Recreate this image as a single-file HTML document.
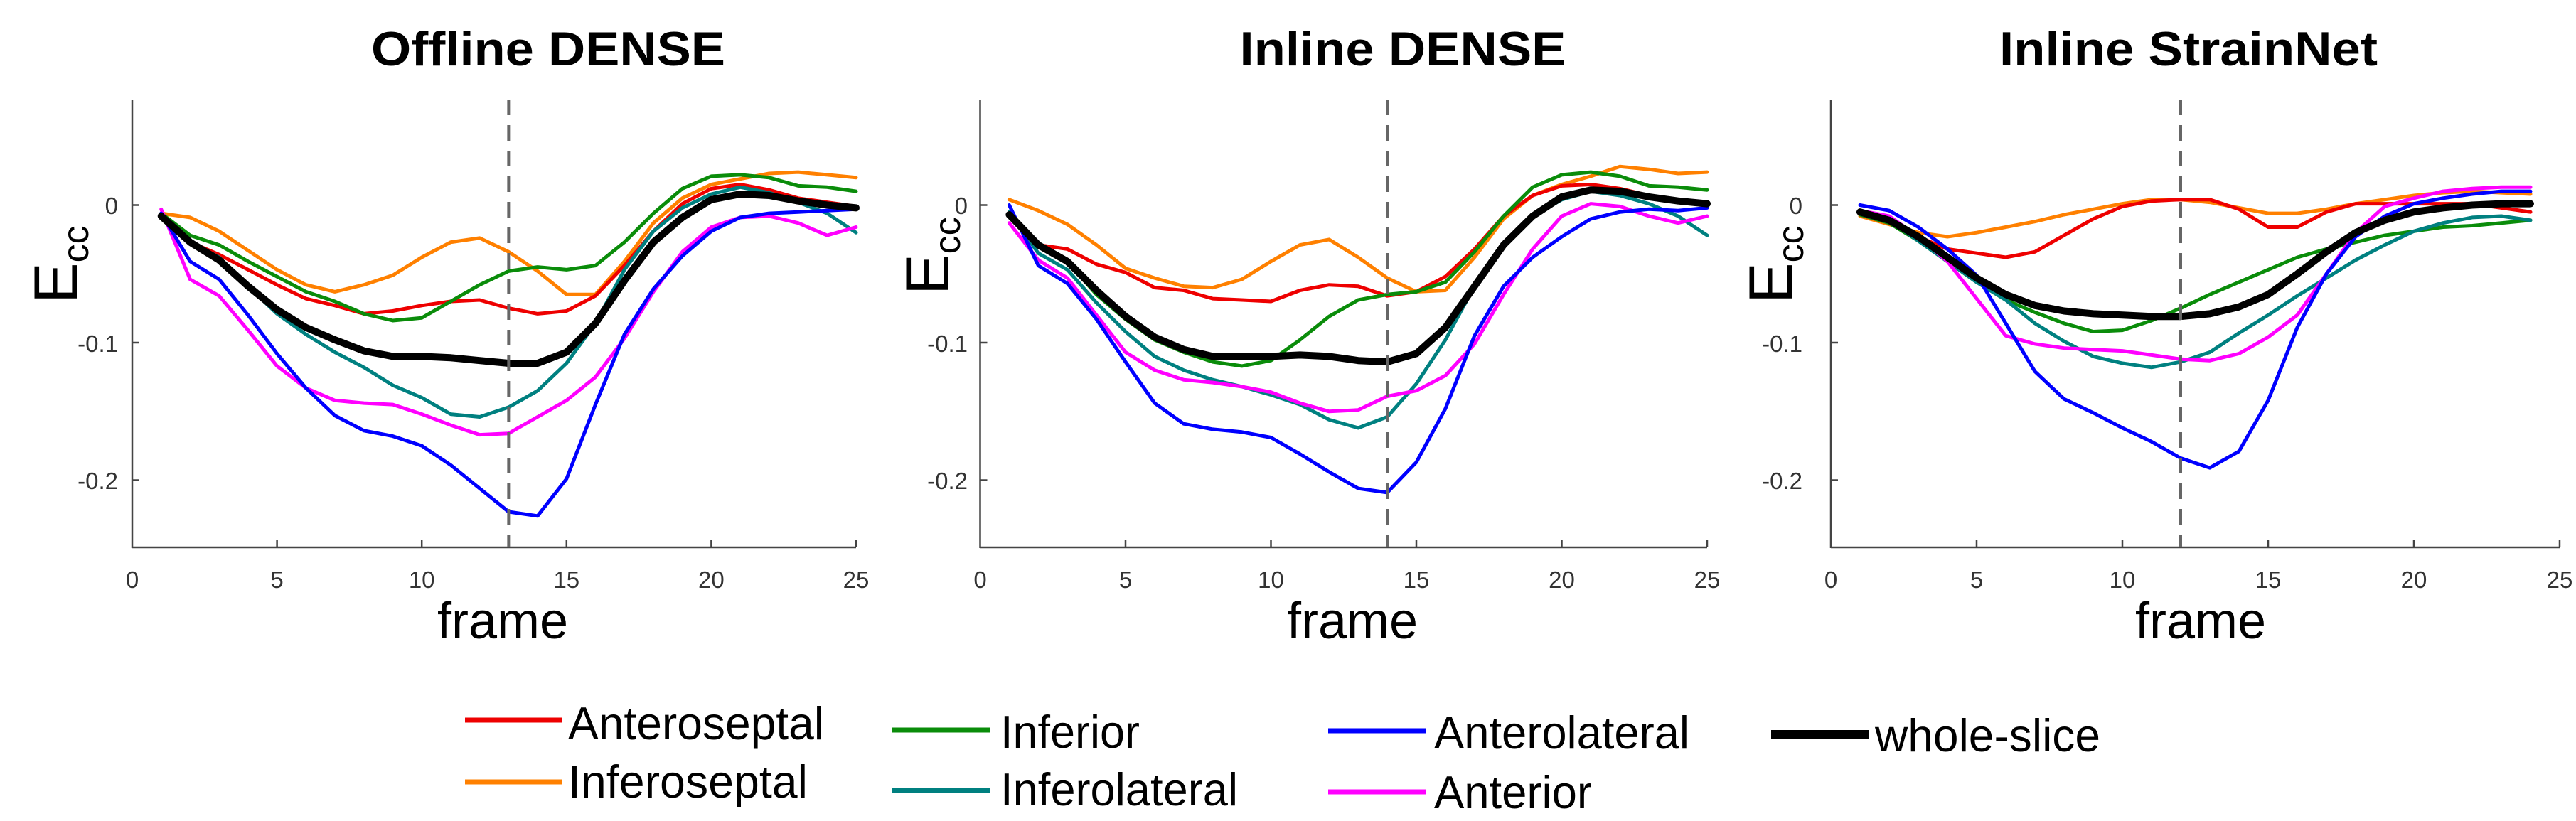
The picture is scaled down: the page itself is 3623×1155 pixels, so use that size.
<!DOCTYPE html>
<html><head><meta charset="utf-8"><style>
html,body{margin:0;padding:0;background:#fff;}
svg{display:block;}
</style></head><body>
<svg id="s" width="3623" height="1155" viewBox="0 0 3623 1155" xmlns="http://www.w3.org/2000/svg">
<rect width="3623" height="1155" fill="#fff"/>
<g font-family="Liberation Sans, Arial, sans-serif" font-weight="bold" font-size="68" fill="#000" text-anchor="middle">
<text x="771" y="92" textLength="498" lengthAdjust="spacingAndGlyphs">Offline DENSE</text>
<text x="1973" y="92" textLength="459" lengthAdjust="spacingAndGlyphs">Inline DENSE</text>
<text x="3078" y="92" textLength="532" lengthAdjust="spacingAndGlyphs">Inline StrainNet</text>
</g>
<g font-family="Liberation Sans, Arial, sans-serif" font-size="72" fill="#000" text-anchor="middle">
<text x="707" y="898">frame</text>
<text x="1902" y="898">frame</text>
<text x="3095" y="898">frame</text>
</g>
<g font-family="Liberation Sans, Arial, sans-serif" fill="#000" text-anchor="middle">
<text transform="translate(108,372) rotate(-90)" font-size="86">E<tspan font-size="52" dy="16">cc</tspan></text>
<text transform="translate(1334,360) rotate(-90)" font-size="86">E<tspan font-size="52" dy="16">cc</tspan></text>
<text transform="translate(2520,372) rotate(-90)" font-size="86">E<tspan font-size="52" dy="16">cc</tspan></text>
</g>
<g font-family="Liberation Sans, Arial, sans-serif" font-size="33" fill="#333" text-anchor="end">
<text x="166" y="301">0</text><text x="166" y="495">-0.1</text><text x="166" y="688">-0.2</text>
<text x="1361" y="301">0</text><text x="1361" y="495">-0.1</text><text x="1361" y="688">-0.2</text>
<text x="2535" y="301">0</text><text x="2535" y="495">-0.1</text><text x="2535" y="688">-0.2</text>
</g>
<g font-family="Liberation Sans, Arial, sans-serif" font-size="33" fill="#333" text-anchor="middle">
<text x="186" y="827">0</text><text x="389.6" y="827">5</text><text x="593.2" y="827">10</text><text x="796.8" y="827">15</text><text x="1000.4" y="827">20</text><text x="1204" y="827">25</text>
<text x="1378.5" y="827">0</text><text x="1583" y="827">5</text><text x="1787.5" y="827">10</text><text x="1992" y="827">15</text><text x="2196.5" y="827">20</text><text x="2401" y="827">25</text>
<text x="2575" y="827">0</text><text x="2780" y="827">5</text><text x="2985" y="827">10</text><text x="3190" y="827">15</text><text x="3395" y="827">20</text><text x="3600" y="827">25</text>
</g>
<g font-family="Liberation Sans, Arial, sans-serif" font-size="65" fill="#000">
<text x="799" y="1040" textLength="360" lengthAdjust="spacingAndGlyphs">Anteroseptal</text>
<text x="799" y="1122" textLength="337" lengthAdjust="spacingAndGlyphs">Inferoseptal</text>
<text x="1407" y="1052" textLength="196" lengthAdjust="spacingAndGlyphs">Inferior</text>
<text x="1407" y="1133" textLength="334" lengthAdjust="spacingAndGlyphs">Inferolateral</text>
<text x="2017" y="1053" textLength="359" lengthAdjust="spacingAndGlyphs">Anterolateral</text>
<text x="2017" y="1137" textLength="222" lengthAdjust="spacingAndGlyphs">Anterior</text>
<text x="2637" y="1057" textLength="317" lengthAdjust="spacingAndGlyphs">whole-slice</text>
</g>
<g stroke-width="7">
<line x1="654" y1="1013" x2="791" y2="1013" stroke="#ee0000"/>
<line x1="654" y1="1100" x2="791" y2="1100" stroke="#ff8000"/>
<line x1="1255" y1="1027" x2="1393" y2="1027" stroke="#0a8c0a"/>
<line x1="1255" y1="1112" x2="1393" y2="1112" stroke="#008080"/>
<line x1="1868" y1="1028" x2="2006" y2="1028" stroke="#0000ff"/>
<line x1="1868" y1="1114" x2="2006" y2="1114" stroke="#ff00ff"/>
<line x1="2491" y1="1033" x2="2629" y2="1033" stroke="#000" stroke-width="12"/>
</g>
<g id="plots"></g>
</svg>
<script>
var P=[
{x0:186,pf:40.72,yl:13,ax:186,d:{
r:[-0.006,-0.027,-0.036,-0.047,-0.058,-0.068,-0.073,-0.079,-0.077,-0.073,-0.07,-0.069,-0.075,-0.079,-0.077,-0.066,-0.044,-0.019,0.001,0.012,0.015,0.011,0.005,0.002,-0.001],
o:[-0.006,-0.009,-0.019,-0.033,-0.047,-0.058,-0.063,-0.058,-0.051,-0.038,-0.027,-0.024,-0.034,-0.048,-0.065,-0.065,-0.041,-0.013,0.005,0.015,0.019,0.023,0.024,0.022,0.020],
g:[-0.006,-0.022,-0.029,-0.041,-0.052,-0.063,-0.070,-0.079,-0.084,-0.082,-0.070,-0.058,-0.048,-0.045,-0.047,-0.044,-0.027,-0.006,0.012,0.021,0.022,0.020,0.014,0.013,0.010],
t:[-0.006,-0.027,-0.038,-0.059,-0.079,-0.094,-0.107,-0.118,-0.131,-0.140,-0.152,-0.154,-0.147,-0.135,-0.115,-0.086,-0.047,-0.019,-0.002,0.008,0.013,0.009,0.002,-0.006,-0.020],
m:[-0.003,-0.054,-0.066,-0.091,-0.117,-0.133,-0.142,-0.144,-0.145,-0.152,-0.160,-0.167,-0.166,-0.154,-0.142,-0.125,-0.097,-0.063,-0.034,-0.016,-0.009,-0.008,-0.013,-0.022,-0.016],
b:[-0.006,-0.041,-0.054,-0.080,-0.108,-0.133,-0.153,-0.164,-0.168,-0.175,-0.189,-0.206,-0.223,-0.226,-0.199,-0.145,-0.094,-0.061,-0.037,-0.019,-0.009,-0.006,-0.005,-0.004,-0.003],
k:[-0.008,-0.027,-0.040,-0.059,-0.076,-0.089,-0.098,-0.106,-0.110,-0.110,-0.111,-0.113,-0.115,-0.115,-0.107,-0.086,-0.055,-0.027,-0.009,0.004,0.008,0.007,0.003,0.0,-0.002]}},
{x0:1378.5,pf:40.9,yl:14,d:{
o:[0.004,-0.004,-0.014,-0.029,-0.046,-0.053,-0.059,-0.060,-0.054,-0.041,-0.029,-0.025,-0.038,-0.053,-0.063,-0.062,-0.038,-0.010,0.007,0.015,0.021,0.028,0.026,0.023,0.024],
r:[-0.008,-0.029,-0.032,-0.043,-0.049,-0.060,-0.062,-0.068,-0.069,-0.070,-0.062,-0.058,-0.059,-0.066,-0.063,-0.052,-0.032,-0.008,0.007,0.014,0.015,0.012,0.007,0.004,0.001],
g:[-0.008,-0.029,-0.041,-0.065,-0.083,-0.098,-0.107,-0.114,-0.117,-0.113,-0.098,-0.081,-0.069,-0.065,-0.063,-0.056,-0.034,-0.008,0.013,0.022,0.024,0.021,0.014,0.013,0.011],
t:[-0.005,-0.035,-0.047,-0.071,-0.092,-0.110,-0.120,-0.127,-0.132,-0.138,-0.145,-0.156,-0.162,-0.154,-0.130,-0.098,-0.059,-0.029,-0.008,0.004,0.010,0.007,0.001,-0.008,-0.022],
m:[-0.013,-0.040,-0.053,-0.080,-0.107,-0.120,-0.127,-0.129,-0.132,-0.136,-0.144,-0.150,-0.149,-0.139,-0.135,-0.124,-0.101,-0.065,-0.032,-0.008,0.001,-0.001,-0.008,-0.013,-0.008],
b:[0.0,-0.044,-0.057,-0.083,-0.114,-0.144,-0.159,-0.163,-0.165,-0.169,-0.181,-0.194,-0.206,-0.209,-0.187,-0.148,-0.095,-0.059,-0.038,-0.023,-0.010,-0.005,-0.003,-0.004,-0.002],
k:[-0.007,-0.029,-0.041,-0.062,-0.081,-0.096,-0.105,-0.110,-0.110,-0.110,-0.109,-0.110,-0.113,-0.114,-0.108,-0.089,-0.059,-0.029,-0.008,0.006,0.011,0.010,0.006,0.003,0.001]}},
{x0:2575,pf:41.0,yl:12,d:{
o:[-0.008,-0.014,-0.020,-0.023,-0.020,-0.016,-0.012,-0.007,-0.003,0.001,0.004,0.004,0.002,-0.002,-0.006,-0.006,-0.003,0.001,0.004,0.007,0.009,0.010,0.009,0.008],
r:[-0.007,-0.013,-0.023,-0.032,-0.035,-0.038,-0.034,-0.022,-0.010,-0.001,0.003,0.004,0.004,-0.003,-0.016,-0.016,-0.005,0.001,0.001,0.001,0.001,0.001,-0.002,-0.005],
g:[-0.007,-0.013,-0.026,-0.041,-0.056,-0.069,-0.078,-0.086,-0.092,-0.091,-0.084,-0.075,-0.065,-0.056,-0.047,-0.038,-0.032,-0.027,-0.022,-0.019,-0.016,-0.015,-0.013,-0.011],
t:[-0.005,-0.011,-0.026,-0.041,-0.056,-0.069,-0.086,-0.099,-0.110,-0.115,-0.118,-0.114,-0.107,-0.093,-0.080,-0.066,-0.053,-0.040,-0.029,-0.019,-0.013,-0.009,-0.008,-0.011],
m:[-0.004,-0.008,-0.023,-0.041,-0.068,-0.095,-0.101,-0.104,-0.105,-0.106,-0.109,-0.112,-0.113,-0.108,-0.096,-0.080,-0.050,-0.020,-0.001,0.005,0.010,0.012,0.013,0.013],
b:[0.0,-0.004,-0.016,-0.032,-0.051,-0.086,-0.121,-0.141,-0.151,-0.162,-0.172,-0.184,-0.191,-0.179,-0.142,-0.089,-0.050,-0.023,-0.008,0.001,0.005,0.008,0.010,0.010],
k:[-0.005,-0.011,-0.023,-0.038,-0.053,-0.065,-0.073,-0.077,-0.079,-0.080,-0.081,-0.081,-0.079,-0.074,-0.065,-0.050,-0.034,-0.020,-0.011,-0.005,-0.002,0.0,0.001,0.001]}}
];
var C={r:"#ee0000",o:"#ff8000",g:"#0a8c0a",t:"#008080",m:"#ff00ff",b:"#0000ff",k:"#000000"};
var order=["o","r","g","t","m","b","k"];
var NS="http://www.w3.org/2000/svg",G=document.getElementById("plots");
function el(n,a){var e=document.createElementNS(NS,n);for(var k in a)e.setAttribute(k,a[k]);G.appendChild(e);return e;}
P.forEach(function(p){
  var X=function(f){return p.x0+f*p.pf;},Y=function(v){return 288.5-v*1935;};
  el("line",{x1:p.x0,y1:140,x2:p.x0,y2:771,stroke:"#444","stroke-width":2.5});
  el("line",{x1:p.x0,y1:770,x2:X(25),y2:770,stroke:"#444","stroke-width":2.5});
  for(var i=1;i<=5;i++)el("line",{x1:X(5*i),y1:770,x2:X(5*i),y2:760,stroke:"#444","stroke-width":2.5});
  [0,-0.1,-0.2].forEach(function(v){el("line",{x1:p.x0,y1:Y(v),x2:p.x0+10,y2:Y(v),stroke:"#444","stroke-width":2.5});});
  order.forEach(function(k){
    var d=p.d[k],s="";
    d.forEach(function(v,i){s+=(i?"L":"M")+X(i+1).toFixed(1)+","+Y(v).toFixed(1);});
    el("path",{d:s,fill:"none",stroke:C[k],"stroke-width":k=="k"?10:5,"stroke-linejoin":"round","stroke-linecap":"round"});
  });
  el("line",{x1:X(p.yl),y1:140,x2:X(p.yl),y2:770,stroke:"#666","stroke-width":4,"stroke-dasharray":"22,14"});
});
</script>
</body></html>
